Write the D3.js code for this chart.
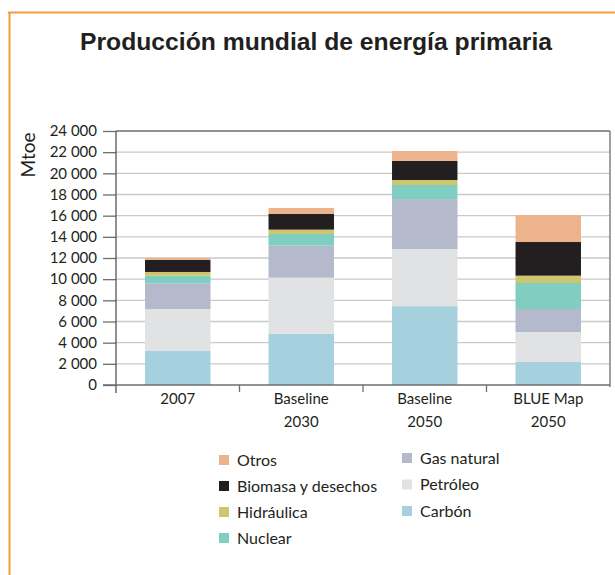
<!DOCTYPE html>
<html>
<head>
<meta charset="utf-8">
<script src="https://cdn.jsdelivr.net/npm/d3@7"></script>
<style>
  body { margin: 0; background: #fff; }
  svg { display: block; }
</style>
</head>
<body>
<script>
const w = 615;
const h = 575;

// data (Mtoe)
const categories = ["2007", "Baseline 2030", "Baseline 2050", "BLUE Map 2050"];
const catLines = [["2007"], ["Baseline", "2030"], ["Baseline", "2050"], ["BLUE Map", "2050"]];
const series = ["Carbón", "Petróleo", "Gas natural", "Nuclear", "Hidráulica", "Biomasa y desechos", "Otros"];
const carbon   = [3250, 4850, 7450, 2170];
const petroleo = [3930, 5290, 5400, 2840];
const gas      = [2430, 3030, 4720, 2170];
const nuclear  = [720, 1100, 1330, 2460];
const hidro    = [350, 410, 470, 690];
const biomasa  = [1130, 1480, 1800, 3180];
const otros    = [200, 570, 940, 2550];
const yTicks = [0, 2000, 4000, 6000, 8000, 10000, 12000, 14000, 16000, 18000, 20000, 22000, 24000];
const colors = ["#a7d0df", "#e1e2e4", "#b4b9cb", "#80cdc1", "#cec56c", "#231f20", "#edb48b"];

const values = [carbon, petroleo, gas, nuclear, hidro, biomasa, otros];
const table = categories.map((c, i) => {
    const row = { cat: c };
    series.forEach((s, j) => row[s] = values[j][i]);
    return row;
});

const svg = d3.select("body").append("svg")
    .attr("width", w)
    .attr("height", h);

// orange frame
svg.append("line")
    .attr("x1", 8).attr("x2", w).attr("y1", 12.5).attr("y2", 12.5)
    .attr("stroke", "#f29d45").attr("stroke-width", 2);
svg.append("line")
    .attr("x1", 9.5).attr("x2", 9.5).attr("y1", 12).attr("y2", h)
    .attr("stroke", "#f29d45").attr("stroke-width", 2);

svg.append("text")
    .attr("x", 80).attr("y", 50)
    .attr("textLength", 472)
    .attr("lengthAdjust", "spacingAndGlyphs")
    .style("font-family", "'Liberation Sans', Arial, sans-serif")
    .style("font-weight", "bold")
    .style("font-size", "24px")
    .style("fill", "#231f20")
    .text("Producción mundial de energía primaria");

const pLeft = 116, pRight = 610, pTop = 131, pBottom = 385;

const x = d3.scaleBand()
    .domain(categories)
    .range([pLeft, pRight])
    .paddingInner(0.47)
    .paddingOuter(0.235);

const y = d3.scaleLinear()
    .domain([0, 24000])
    .range([pBottom, pTop]);

// gridlines
svg.append("g")
    .selectAll("line")
    .data(yTicks.slice(1, -1))
    .enter().append("line")
    .attr("x1", pLeft).attr("x2", pRight)
    .attr("y1", d => y(d)).attr("y2", d => y(d))
    .attr("stroke", "#c9c9c9").attr("stroke-width", 1.3);

// stacked bars
const stack = d3.stack().keys(series)(table);
svg.append("g")
    .selectAll("g")
    .data(stack)
    .enter().append("g")
    .attr("fill", (d, i) => colors[i])
    .selectAll("rect")
    .data(d => d)
    .enter().append("rect")
    .attr("x", d => x(d.data.cat))
    .attr("width", x.bandwidth())
    .attr("y", d => y(d[1]))
    .attr("height", d => y(d[0]) - y(d[1]));

// box top and right
svg.append("line")
    .attr("x1", pLeft).attr("x2", pRight).attr("y1", pTop).attr("y2", pTop)
    .attr("stroke", "#6d6e70").attr("stroke-width", 1.3);
svg.append("line")
    .attr("x1", pRight).attr("x2", pRight).attr("y1", pTop).attr("y2", pBottom + 2)
    .attr("stroke", "#6d6e70").attr("stroke-width", 1.3);

// y axis
const yAxis = svg.append("g")
    .attr("transform", "translate(" + pLeft + ",0)")
    .call(d3.axisLeft(y)
        .tickValues(yTicks)
        .tickSize(13)
        .tickPadding(6)
        .tickFormat(d => d3.format(",")(d).replace(",", " ")));
yAxis.select(".domain").remove();
yAxis.selectAll(".tick line").attr("stroke", "#6d6e70").attr("stroke-width", 1.3);
yAxis.selectAll("text")
    .style("font-family", "Lato, 'Open Sans', sans-serif")
    .style("font-size", "15px")
    .style("fill", "#231f20");

svg.append("line")
    .attr("x1", pLeft).attr("x2", pLeft).attr("y1", pTop).attr("y2", pBottom + 8)
    .attr("stroke", "#555").attr("stroke-width", 1.3);

// x axis
svg.append("line")
    .attr("x1", pLeft - 13).attr("x2", pRight).attr("y1", pBottom).attr("y2", pBottom)
    .attr("stroke", "#6d6e70").attr("stroke-width", 1.3);
svg.append("g")
    .selectAll("line")
    .data(categories.slice(1))
    .enter().append("line")
    .attr("x1", d => x(d) - x.step() * x.paddingInner() / 2)
    .attr("x2", d => x(d) - x.step() * x.paddingInner() / 2)
    .attr("y1", pBottom).attr("y2", pBottom + 7)
    .attr("stroke", "#6d6e70").attr("stroke-width", 1.3);

const catLabels = svg.append("g")
    .selectAll("text")
    .data(categories)
    .enter().append("text")
    .attr("x", d => x(d) + x.bandwidth() / 2)
    .attr("y", 404)
    .attr("text-anchor", "middle")
    .style("font-family", "Lato, 'Open Sans', sans-serif")
    .style("font-size", "15px")
    .style("fill", "#231f20");
catLabels.selectAll("tspan")
    .data((d, i) => catLines[i])
    .enter().append("tspan")
    .attr("x", function() { return d3.select(this.parentNode).attr("x"); })
    .attr("dy", (d, i) => i === 0 ? 0 : 23)
    .text(d => d);

// y title
svg.append("text")
    .attr("transform", "translate(35,155) rotate(-90)")
    .attr("text-anchor", "middle")
    .style("font-family", "Lato, 'Open Sans', sans-serif")
    .style("font-size", "19px")
    .style("fill", "#231f20")
    .text("Mtoe");

// legend
const legendLeft = ["Otros", "Biomasa y desechos", "Hidráulica", "Nuclear"];
const legendRight = ["Gas natural", "Petróleo", "Carbón"];
const legendItems = legendLeft.map((s, i) => ({ s: s, x: 219, y: 460 + i * 26 }))
    .concat(legendRight.map((s, i) => ({ s: s, x: 402, y: 458 + i * 26.5 })));

const lg = svg.append("g")
    .selectAll("g")
    .data(legendItems)
    .enter().append("g")
    .attr("transform", d => "translate(" + d.x + "," + d.y + ")");
lg.append("rect")
    .attr("x", 0).attr("y", -5)
    .attr("width", 10).attr("height", 10)
    .attr("fill", d => colors[series.indexOf(d.s)]);
lg.append("text")
    .attr("x", 18).attr("y", 5.5)
    .style("font-family", "Lato, 'Open Sans', sans-serif")
    .style("font-size", "16px")
    .style("fill", "#231f20")
    .text(d => d.s);
</script>
</body>
</html>
